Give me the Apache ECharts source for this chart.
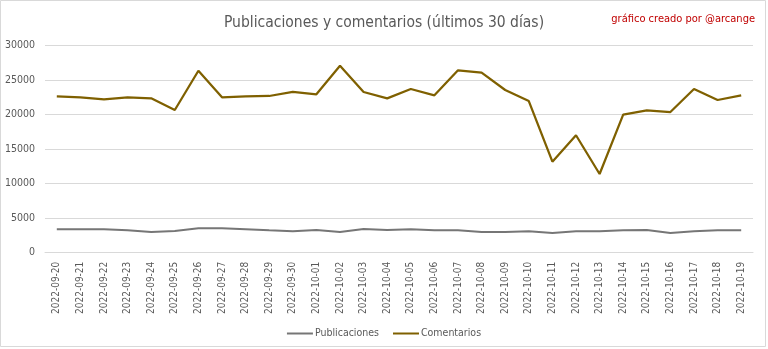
<!DOCTYPE html>
<html>
<head>
<meta charset="utf-8">
<script src="https://cdn.jsdelivr.net/npm/echarts@6/dist/echarts.min.js"></script>
<style>html,body{margin:0;padding:0;background:#fff}#c{width:768px;height:349px}</style>
</head>
<body>
<div id="c"></div>
<script>
const categories = ["2022-09-20","2022-09-21","2022-09-22","2022-09-23","2022-09-24","2022-09-25","2022-09-26","2022-09-27","2022-09-28","2022-09-29","2022-09-30","2022-10-01","2022-10-02","2022-10-03","2022-10-04","2022-10-05","2022-10-06","2022-10-07","2022-10-08","2022-10-09","2022-10-10","2022-10-11","2022-10-12","2022-10-13","2022-10-14","2022-10-15","2022-10-16","2022-10-17","2022-10-18","2022-10-19"];
const publicaciones = [3390,3390,3390,3240,3000,3140,3530,3530,3390,3240,3100,3290,3000,3430,3290,3390,3240,3240,3000,3000,3100,2850,3100,3100,3240,3290,2850,3100,3240,3240];
const comentarios = [22640,22500,22210,22500,22350,20660,26350,22500,22640,22690,23290,22930,27080,23270,22350,23700,22790,26410,26060,23560,21950,13180,17000,11390,19980,20620,20370,23700,22110,22790];
const yTicks = {min:0, max:30000, interval:5000};
const titleText = "Publicaciones y comentarios (últimos 30 días)";
const creditText = "gráfico creado por @arcange";

const FONT = "'DejaVu Sans Condensed','Liberation Sans',sans-serif";
const chart = echarts.init(document.getElementById('c'), null, {renderer:'canvas'});
chart.setOption({
  animation:false,
  backgroundColor:'#fff',
  textStyle:{fontFamily:FONT},
  title:[
    {text:titleText, left:'center', top:10, textStyle:{fontFamily:FONT, fontSize:15.5, fontWeight:'normal', color:'#595959'}},
    {text:creditText, right:8, top:9, textStyle:{fontFamily:FONT, fontSize:11, fontWeight:'normal', color:'#c00000'}}
  ],
  graphic:[{type:'rect', shape:{x:0.5,y:0.5,width:765,height:346}, style:{fill:'none', stroke:'#d9d9d9', lineWidth:1}, silent:true}],
  legend:{
    top:323, left:'center', icon:'rect', itemWidth:26, itemHeight:2, itemGap:14,
    textStyle:{fontFamily:FONT, fontSize:10.5, color:'#595959', padding:[0,0,0,-3]},
    data:['Publicaciones','Comentarios']
  },
  grid:{left:45, right:15, top:45.5, bottom:96.3, containLabel:false},
  xAxis:{
    type:'category', data:categories, boundaryGap:true,
    axisLine:{show:true, lineStyle:{color:'#d9d9d9', width:1}},
    axisTick:{show:false},
    axisLabel:{rotate:90, interval:0, fontFamily:FONT, fontSize:10, color:'#595959', margin:9}
  },
  yAxis:{
    type:'value', min:yTicks.min, max:yTicks.max, interval:yTicks.interval,
    axisLine:{show:false}, axisTick:{show:false},
    splitLine:{lineStyle:{color:'#d9d9d9', width:1}},
    axisLabel:{fontFamily:FONT, fontSize:10.5, color:'#595959', margin:10, formatter:function(v){return String(v);}}
  },
  series:[
    {name:'Publicaciones', type:'line', data:publicaciones, symbol:'none', lineStyle:{color:'#767676', width:2}, itemStyle:{color:'#767676'}},
    {name:'Comentarios', type:'line', data:comentarios, symbol:'none', lineStyle:{color:'#7f6000', width:2.25}, itemStyle:{color:'#7f6000'}}
  ]
});
</script>
</body>
</html>
